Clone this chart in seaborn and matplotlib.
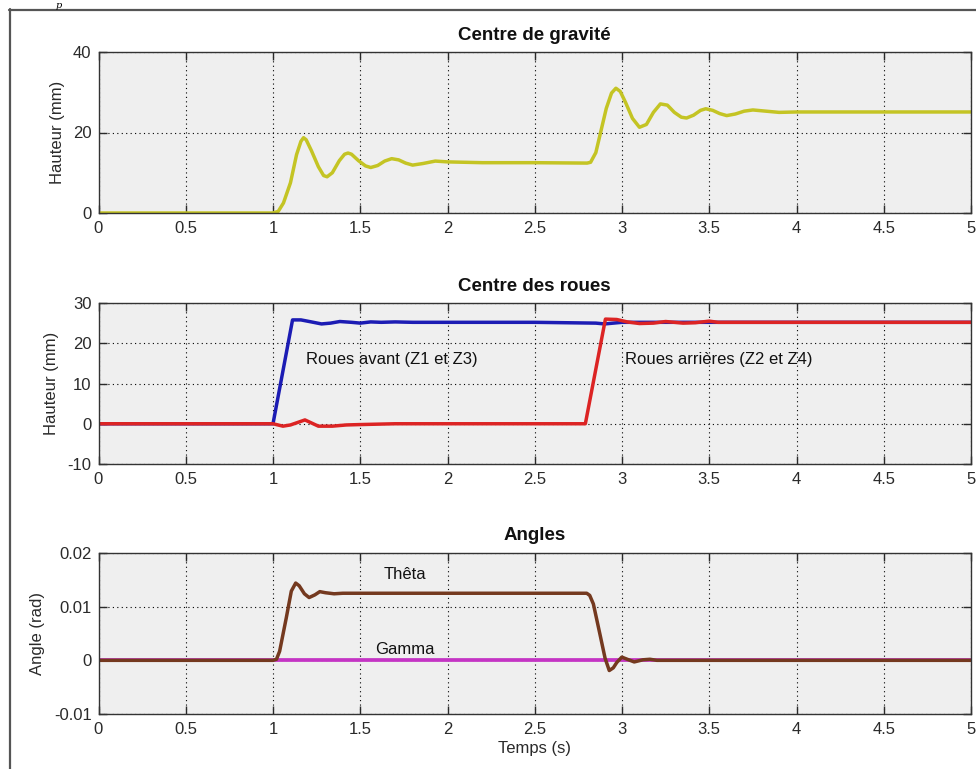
import numpy as np
import pandas as pd
import matplotlib
matplotlib.use("Agg")
import matplotlib.pyplot as plt
import seaborn as sns

# === Data ===
# Centre de gravité
t_cg = [0, 1.0, 1.03, 1.06, 1.10, 1.135, 1.16, 1.175, 1.19, 1.22, 1.26, 1.29, 1.31, 1.34,
        1.38, 1.41, 1.43, 1.45, 1.49, 1.53, 1.56, 1.60, 1.64, 1.68, 1.72, 1.76, 1.80, 1.86,
        1.93, 2.0, 2.2, 2.5, 2.8, 2.82, 2.85, 2.88, 2.91, 2.94, 2.965, 2.99, 3.02, 3.06, 3.10,
        3.14, 3.18, 3.22, 3.26, 3.30, 3.34, 3.37, 3.41, 3.45, 3.48, 3.52, 3.56, 3.60, 3.65,
        3.70, 3.75, 3.80, 3.90, 4.0, 4.5, 5.0]
z_cg = [0, 0, 0.4, 2.5, 7.5, 14.5, 17.8, 18.7, 18.2, 15.5, 11.5, 9.3, 9.0, 10.0,
        13.0, 14.6, 14.9, 14.6, 13.0, 11.7, 11.3, 11.8, 12.9, 13.5, 13.2, 12.4, 11.9, 12.3,
        12.9, 12.7, 12.5, 12.5, 12.4, 12.6, 15.0, 20.5, 26.0, 29.8, 31.0, 30.2, 27.5, 23.5, 21.3,
        22.0, 25.0, 27.1, 26.8, 25.0, 23.8, 23.6, 24.3, 25.5, 25.9, 25.5, 24.7, 24.2, 24.6,
        25.3, 25.6, 25.4, 25.0, 25.1, 25.1, 25.1]

# Centre des roues
t_av = [0, 1.0, 1.112, 1.16, 1.22, 1.278, 1.33, 1.383, 1.45, 1.5, 1.56, 1.62, 1.7, 1.8,
        2.0, 2.5, 2.85, 2.9, 3.0, 4.0, 5.0]
z_av = [0, 0, 25.8, 25.8, 25.3, 24.8, 25.0, 25.4, 25.2, 25.0, 25.3, 25.2, 25.3, 25.2,
        25.2, 25.2, 25.0, 24.8, 25.2, 25.2, 25.2]
t_ar = [0, 1.0, 1.057, 1.10, 1.183, 1.26, 1.34, 1.42, 1.5, 1.6, 1.7, 2.0, 2.5, 2.79,
        2.905, 2.97, 3.03, 3.10, 3.18, 3.25, 3.35, 3.42, 3.5, 3.55, 3.6, 4.0, 5.0]
z_ar = [0, 0, -0.6, -0.3, 0.95, -0.6, -0.6, -0.3, -0.2, -0.1, 0.0, 0.0, 0.0, 0.0,
        26.0, 25.9, 25.3, 24.9, 25.0, 25.4, 25.0, 25.1, 25.5, 25.2, 25.2, 25.2, 25.2]

# Angles
t_th = [0, 1.0, 1.02, 1.038, 1.076, 1.105, 1.13, 1.15, 1.18, 1.207, 1.24, 1.268, 1.30,
        1.35, 1.4, 2.0, 2.5, 2.798, 2.815, 2.836, 2.874, 2.903, 2.927, 2.95, 2.97, 2.999,
        3.03, 3.07, 3.12, 3.16, 3.2, 4.0, 5.0]
theta = [0, 0, 0.0002, 0.0017, 0.0079, 0.0129, 0.0144, 0.0139, 0.0124, 0.0117, 0.0122,
         0.0128, 0.0126, 0.0124, 0.0125, 0.0125, 0.0125, 0.0125, 0.0121, 0.0105, 0.0048,
         0.0004, -0.0019, -0.0014, -0.0004, 0.0006, 0.0002, -0.0003, 0.0001, 0.0002, 0.0,
         0.0, 0.0]
t_ga = [0, 5.0]
gamma = [0, 0]

x_ticks = [0, 0.5, 1, 1.5, 2, 2.5, 3, 3.5, 4, 4.5, 5]
x_labels = ["0", "0.5", "1", "1.5", "2", "2.5", "3", "3.5", "4", "4.5", "5"]
y_ticks_cg = [0, 20, 40]
y_ticks_rw = [-10, 0, 10, 20, 30]
y_ticks_an = [-0.01, 0, 0.01, 0.02]
y_labels_an = ["-0.01", "0", "0.01", "0.02"]

# === Style ===
sns.set_theme(style="ticks")
plt.rcParams["font.family"] = ["Liberation Sans", "DejaVu Sans"]

W, H = 976, 769
fig = plt.figure(figsize=(W / 100, H / 100), dpi=100, facecolor="white")


def make_axes(top_px):
    left, right, h = 98.5, 971, 161
    return fig.add_axes([left / W, (H - top_px - h) / H, (right - left) / W, h / H])


def style_axes(ax, title, yticks, ylabels, ylim, ylabel):
    ax.set_facecolor("#efefef")
    ax.set_xlim(0, 5)
    ax.set_ylim(*ylim)
    ax.set_xticks(x_ticks)
    ax.set_xticklabels(x_labels)
    ax.set_yticks(yticks)
    ax.set_yticklabels(ylabels)
    ax.grid(True, color="black", linestyle=(0, (1, 3)), linewidth=0.8)
    ax.tick_params(direction="in", length=6, width=1, top=True, right=True,
                   labelsize=12, colors="#2a2a2a", pad=5)
    ax.tick_params(axis="x", pad=6)
    for s in ax.spines.values():
        s.set_color("#333333")
        s.set_linewidth(1.0)
    ax.set_title(title, fontsize=13.5, fontweight="bold", pad=9, color="#111111")
    ax.set_ylabel(ylabel, fontsize=12, color="#2a2a2a", labelpad=6)
    ax.set_xlabel("")


# --- Centre de gravité ---
ax1 = make_axes(52)
df_cg = pd.DataFrame({"t": t_cg, "z": z_cg})
sns.lineplot(data=df_cg, x="t", y="z", ax=ax1, color="#c4c424", linewidth=2.5,
             estimator=None, sort=False)
style_axes(ax1, "Centre de gravité", y_ticks_cg, [str(v) for v in y_ticks_cg], (0, 40),
           "Hauteur (mm)")

# --- Centre des roues ---
ax2 = make_axes(303)
df_av = pd.DataFrame({"t": t_av, "z": z_av})
df_ar = pd.DataFrame({"t": t_ar, "z": z_ar})
sns.lineplot(data=df_av, x="t", y="z", ax=ax2, color="#1c1cb4", linewidth=2.5,
             estimator=None, sort=False)
sns.lineplot(data=df_ar, x="t", y="z", ax=ax2, color="#dc2424", linewidth=2.5,
             estimator=None, sort=False)
style_axes(ax2, "Centre des roues", y_ticks_rw, [str(v) for v in y_ticks_rw], (-10, 30),
           "Hauteur (mm)")
ax2.text(1.19, 16, "Roues avant (Z1 et Z3)", fontsize=12, va="center", ha="left", color="#111111")
ax2.text(3.02, 16, "Roues arrières (Z2 et Z4)", fontsize=12, va="center", ha="left", color="#111111")

# --- Angles ---
ax3 = make_axes(553)
df_ga = pd.DataFrame({"t": t_ga, "a": gamma})
df_th = pd.DataFrame({"t": t_th, "a": theta})
sns.lineplot(data=df_ga, x="t", y="a", ax=ax3, color="#c434c4", linewidth=2.7,
             estimator=None, sort=False)
sns.lineplot(data=df_th, x="t", y="a", ax=ax3, color="#74391f", linewidth=2.5,
             estimator=None, sort=False)
style_axes(ax3, "Angles", y_ticks_an, y_labels_an, (-0.01, 0.02), "Angle (rad)")
ax3.set_xlabel("Temps (s)", fontsize=12, color="#2a2a2a", labelpad=3)
ax3.text(1.755, 0.016, "Thêta", fontsize=12, va="center", ha="center", color="#111111")
ax3.text(1.755, 0.0021, "Gamma", fontsize=12, va="center", ha="center", color="#111111")

# figure frame (window border) and the stray caption letter above it
fig.add_artist(plt.Line2D([9 / W, 1], [1 - 9.5 / H] * 2, transform=fig.transFigure,
                          color="#555555", linewidth=1.6))
fig.add_artist(plt.Line2D([9.5 / W] * 2, [0, 1 - 9 / H], transform=fig.transFigure,
                          color="#555555", linewidth=1.6))
fig.text(56 / W, 1 - 0.5 / H, "p", fontsize=7, style="italic", family="DejaVu Serif",
         va="top", ha="left", color="black")

fig.savefig("out.png", dpi=100, facecolor="white")
